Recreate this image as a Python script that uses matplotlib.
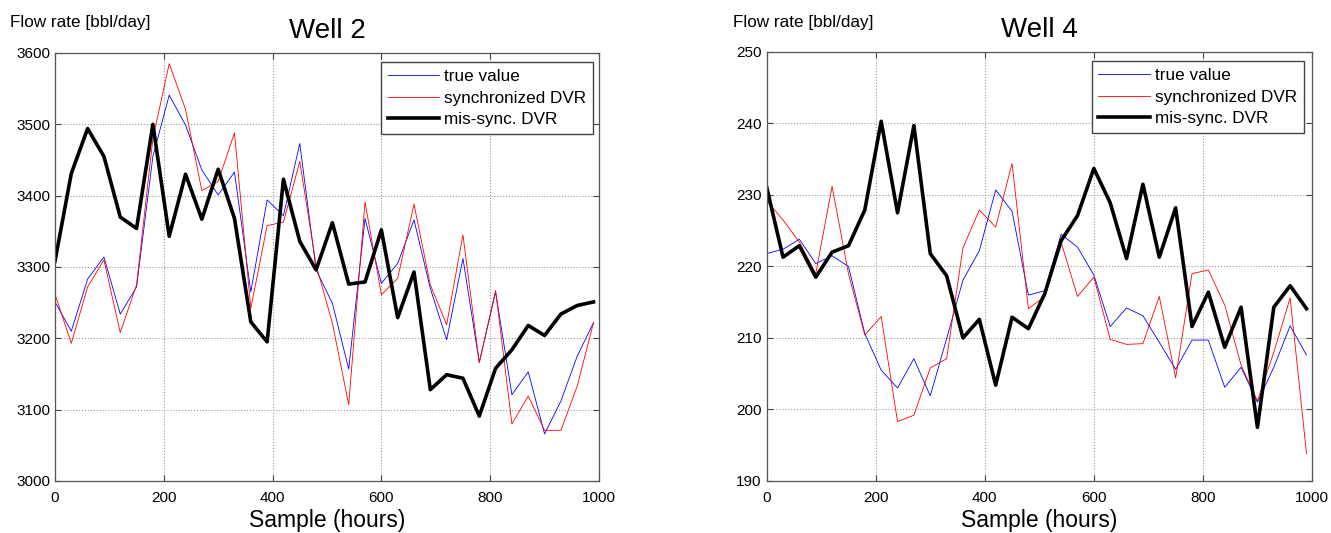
import numpy as np
import matplotlib
matplotlib.use('Agg')
import matplotlib.pyplot as plt

plt.rcParams['font.family'] = ['Liberation Sans', 'DejaVu Sans']

# sample times (hours)
hours = list(range(0, 1000, 30))

# Well 2
w2_true = [3251, 3210, 3283, 3314, 3234, 3272, 3455, 3541, 3499, 3436, 3401, 3433,
           3265, 3394, 3372, 3473, 3296, 3249, 3157, 3368, 3277, 3305, 3366, 3270,
           3198, 3312, 3166, 3265, 3121, 3153, 3066, 3112, 3175, 3222]
w2_sync = [3262, 3193, 3272, 3310, 3208, 3275, 3480, 3585, 3521, 3407, 3420, 3488,
           3242, 3358, 3363, 3448, 3303, 3221, 3107, 3391, 3261, 3284, 3388, 3275,
           3219, 3345, 3166, 3267, 3080, 3119, 3071, 3071, 3133, 3222]
w2_mis = [3308, 3431, 3494, 3455, 3370, 3354, 3500, 3343, 3430, 3367, 3437, 3368,
          3223, 3195, 3423, 3336, 3296, 3362, 3276, 3279, 3352, 3229, 3293, 3128,
          3149, 3144, 3091, 3158, 3184, 3218, 3204, 3234, 3246, 3251]

# Well 4
w4_true = [221.8, 222.4, 223.8, 220.4, 221.5, 220.0, 210.6, 205.5, 203.0, 207.1, 201.9, 209.9,
           218.1, 222.2, 230.7, 227.7, 216.0, 216.6, 224.5, 222.7, 218.8, 211.6, 214.2, 213.1,
           209.4, 205.6, 209.7, 209.7, 203.1, 205.9, 201.0, 205.9, 211.7, 207.6]
w4_sync = [229.2, 226.5, 223.4, 219.0, 231.2, 219.0, 210.4, 213.0, 198.3, 199.2, 205.8, 207.1,
           222.6, 227.9, 225.5, 234.4, 214.1, 215.8, 223.4, 215.8, 218.5, 209.8, 209.1, 209.2,
           215.8, 204.4, 219.0, 219.5, 214.6, 206.2, 201.2, 208.0, 215.6, 193.8]
w4_mis = [231.1, 221.3, 222.9, 218.5, 222.0, 222.9, 227.9, 240.3, 227.5, 239.7, 221.8, 218.7,
          210.0, 212.6, 203.4, 212.9, 211.3, 216.2, 223.6, 227.1, 233.7, 228.9, 221.1, 231.5,
          221.3, 228.2, 211.6, 216.4, 208.7, 214.3, 197.5, 214.3, 217.3, 214.1]

fig = plt.figure(figsize=(13.31, 5.33), dpi=100)
ax1 = fig.add_axes([0.0413, 0.0976, 0.4087, 0.803])
ax2 = fig.add_axes([0.576, 0.0976, 0.4097, 0.805])


def draw(ax, true, sync, mis, title, ylim, yticks, xlab_fig, legend_anchor):
    ax.plot(hours, true, color='#0000ff', lw=0.6, label='true value')
    ax.plot(hours, sync, color='#ff0000', lw=0.6, label='synchronized DVR')
    ax.plot(hours, mis, color='black', lw=2.6, label='mis-sync. DVR')
    ax.set_xlim(0, 1000)
    ax.set_ylim(*ylim)
    ax.set_xticks([0, 200, 400, 600, 800, 1000])
    ax.set_yticks(yticks)
    ax.grid(True, color='#999999', linestyle=':', lw=0.8)
    ax.tick_params(direction='in', top=True, right=True, labelsize=11, length=4, color='#444444')
    ax.tick_params(axis='x', pad=7)
    for s in ax.spines.values():
        s.set_color('#555555')
        s.set_linewidth(0.9)
    ax.set_title(title, fontsize=20, pad=11)
    ax.set_xlabel('Sample (hours)', fontsize=16.5, labelpad=3)
    fig.text(xlab_fig, 0.958, 'Flow rate [bbl/day]', fontsize=12.3, ha='left', va='center')
    leg = ax.legend(loc='upper right', bbox_to_anchor=legend_anchor, fontsize=12.3,
                    fancybox=False, framealpha=1, edgecolor='#444444', borderpad=0.4,
                    labelspacing=0.4, handlelength=3.0, handletextpad=0.3, borderaxespad=0)
    leg.get_frame().set_linewidth(1.0)


draw(ax1, w2_true, w2_sync, w2_mis, 'Well 2', (3000, 3600),
     [3000, 3100, 3200, 3300, 3400, 3500, 3600], 0.0075, (0.989, 0.979))
draw(ax2, w4_true, w4_sync, w4_mis, 'Well 4', (190, 250),
     [190, 200, 210, 220, 230, 240, 250], 0.5505, (0.985, 0.979))

fig.savefig('out.png', dpi=100)
